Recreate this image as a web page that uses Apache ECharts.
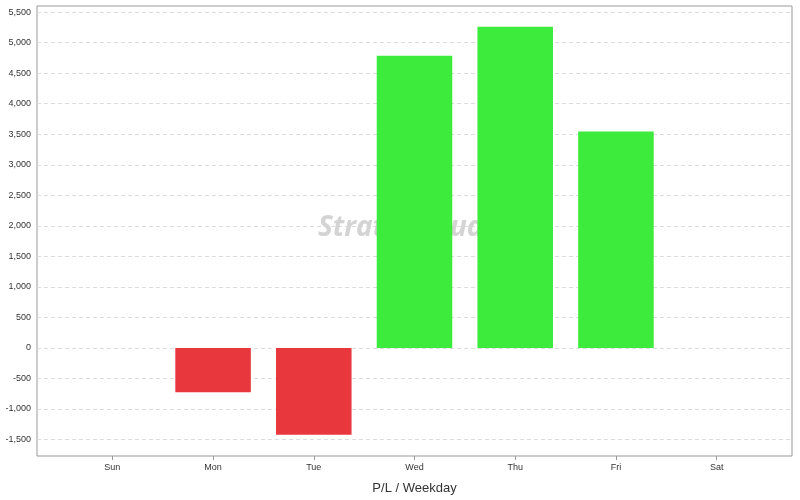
<!DOCTYPE html>
<html><head><meta charset="utf-8">
<script src="https://cdn.jsdelivr.net/npm/echarts@6/dist/echarts.min.js"></script>
<style>html,body{margin:0;padding:0;background:#fff}#c{width:800px;height:500px}</style>
</head><body><div id="c"></div>
<script>
var categories = ['Sun','Mon','Tue','Wed','Thu','Fri','Sat'];
var values = [0, -725, -1424, 4787, 5262, 3543, 0];
var tickValues = [-1500,-1000,-500,0,500,1000,1500,2000,2500,3000,3500,4000,4500,5000,5500];
var axisTitle = 'P/L / Weekday';
var watermark = 'StrategyQuant';

var yMin = -1770, yMax = 5600;
var chart = echarts.init(document.getElementById('c'));
chart.setOption({
  animation: false,
  backgroundColor: '#fff',
  textStyle: {fontFamily: 'Liberation Sans, Arial, sans-serif'},
  graphic: [{
    type: 'text', left: 318, top: 214, z: 1, silent: true,
    style: {text: watermark, fontSize: 28, fontWeight: 'bold', fontStyle: 'italic', fontFamily: 'Open Sans', fill: '#d4d4d4'}
  }],
  grid: [
    {left: 37, right: 8, top: 6, bottom: 44, show: true, borderColor: '#999', borderWidth: 1, backgroundColor: 'transparent', outerBoundsMode: 'none'},
    {left: 62, right: 33, top: 6, bottom: 44, show: false, outerBoundsMode: 'none'}
  ],
  xAxis: [{
    gridIndex: 0, type: 'value', min: 0, max: 1, show: false
  }, {
    gridIndex: 1, type: 'category', data: categories,
    name: axisTitle, nameLocation: 'middle', nameGap: 26,
    nameTextStyle: {fontSize: 13, color: '#333'},
    axisLine: {show: false, onZero: false},
    axisTick: {show: true, alignWithLabel: true, length: 4, lineStyle: {color: '#999'}},
    axisLabel: {fontSize: 9, color: '#333', margin: 7},
    splitLine: {show: false}
  }],
  yAxis: [{
    gridIndex: 0, type: 'value', min: yMin, max: yMax,
    axisLine: {show: false},
    axisTick: {show: false, customValues: tickValues},
    axisLabel: {fontSize: 9, color: '#333', margin: 6, customValues: tickValues,
      formatter: function(v){ return v.toLocaleString('en-US'); }},
    splitLine: {show: true, lineStyle: {color: '#dcdcdc', type: [4, 3], width: 1}}
  }, {
    gridIndex: 1, type: 'value', min: yMin, max: yMax, show: false
  }],
  series: [{
    type: 'bar', xAxisIndex: 1, yAxisIndex: 1, barWidth: '75%', z: 2,
    data: values.map(function(v){ return {value: v, itemStyle: {color: v < 0 ? '#e8383d' : '#3deb3d'}}; })
  }]
});
</script></body></html>
